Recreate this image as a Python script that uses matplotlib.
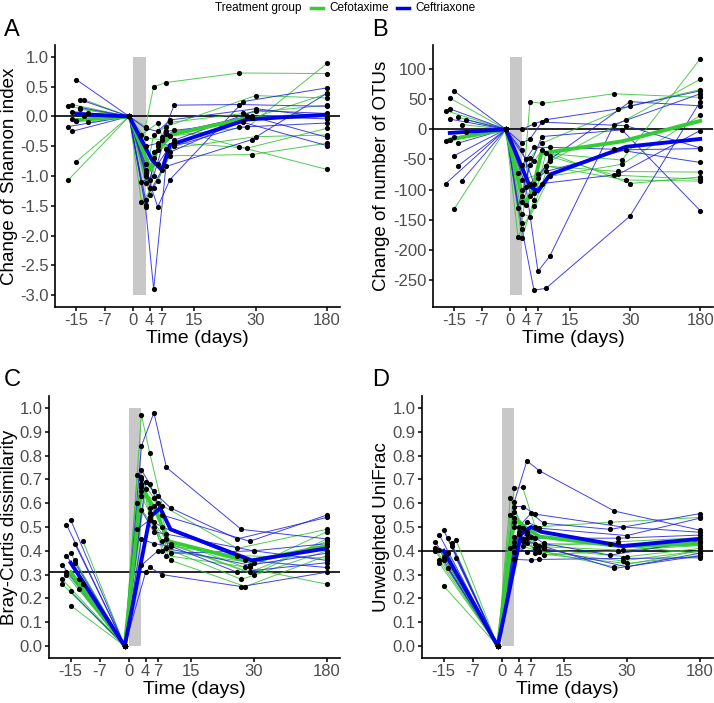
import numpy as np
import matplotlib.pyplot as plt
from matplotlib.lines import Line2D

plt.rcParams['font.family'] = ['Liberation Sans', 'DejaVu Sans']
plt.rcParams['axes.unicode_minus'] = False

W, H = 714, 703

# subjects: first 9 cefotaxime, last 9 ceftriaxone
group = ['Cefotaxime'] * 9 + ['Ceftriaxone'] * 9
base_day = [-15, -14, -16, -13, -15, -12, -14, -16, -11, -14, -15, -13, -16, -12, -15, -11, -14, -13]
ref_day = -1
day_1 = [3, 3, 2, 3, 3, 4, 3, 2, 3, 3, 3, 4, 3, 2, 3, 3, 4, 3]
day_2 = [5, 6, 6, 5, 7, 6, 5, 6, 5, 6, 5, 7, 6, 5, 6, 7, 5, 6]
day_3 = [8, 9, 10, 8, 9, 10, 9, 8, 10, 9, 8, 10, 9, 8, 10, 9, 8, 10]
day_30 = [26, 28, 29, 30, 27, 26, 29, 30, 28, 27, 29, 26, 30, 28, 26, 29, 27, 30]
day_180 = 180

# values per subject: baseline, reference, d1, d2, d3, d30, d180
shannon = [
    [0.20, 0, -0.17, 0.50, 0.57, 0.73, 0.72],
    [-0.76, 0, -1.12, -0.56, -0.33, -0.18, 0.89],
    [-1.07, 0, -1.43, -1.09, -0.44, -0.03, 0.38],
    [0.12, 0, -1.00, -0.31, -0.17, 0.35, 0.31],
    [-0.05, 0, -0.36, -0.39, -0.10, 0.05, 0.19],
    [0.28, 0, -1.32, -0.50, -0.22, -0.51, -0.89],
    [-0.08, 0, -1.49, -1.20, -0.66, -0.64, -0.45],
    [0.17, 0, -0.31, -0.11, -0.55, -0.34, -0.31],
    [-0.10, 0, -0.95, -0.60, -0.44, -0.53, -0.20],
    [0.62, 0, -0.90, -1.52, -1.06, 0.25, 0.48],
    [0.08, 0, -1.52, -2.90, -0.84, -0.39, 0.39],
    [0.15, 0, -1.06, -0.35, 0.19, 0.20, 0.17],
    [-0.17, 0, -0.20, -0.25, -0.06, 0.13, -0.01],
    [0.00, 0, -1.10, -1.00, -0.30, 0.00, -0.04],
    [-0.25, 0, -0.50, -0.45, -0.50, -0.18, -0.11],
    [0.05, 0, -1.40, -0.90, -0.60, 0.00, -0.35],
    [-0.08, 0, -1.20, -0.70, -0.25, -0.10, -0.49],
    [0.28, 0, -0.80, -0.80, -0.40, 0.10, 0.05],
]
otus = [
    [-17, 0, -120, 46, 43, 59, 53],
    [-133, 0, -181, -117, -40, -51, 117],
    [-20, 0, -178, -128, -53, 16, 83],
    [20, 0, -155, -48, -23, 39, 66],
    [52, 0, -84, -75, -61, -70, -71],
    [8, 0, -125, -105, -45, -76, -83],
    [-13, 0, -110, -90, -61, -84, -86],
    [31, 0, -72, -53, -35, -90, -79],
    [-4, 0, -140, -145, -78, -58, 23],
    [64, 0, 0, 9, 16, 34, 64],
    [17, 0, -23, -16, 12, 6, -31],
    [-61, 0, -95, -236, -210, 8, 59],
    [-90, 0, -165, -267, -264, -144, 46],
    [-85, 0, -130, -60, -12, -1, -135],
    [34, 0, -60, -30, -30, -33, -55],
    [16, 0, -100, -80, -70, -34, -32],
    [-44, 0, -50, -110, -90, -75, -2],
    [-23, 0, -35, -90, -50, 46, 39],
]
bray = [
    [0.31, 0, 0.97, 0.81, 0.59, 0.41, 0.49],
    [0.17, 0, 0.70, 0.62, 0.45, 0.33, 0.26],
    [0.28, 0, 0.72, 0.65, 0.43, 0.31, 0.44],
    [0.36, 0, 0.68, 0.58, 0.40, 0.35, 0.42],
    [0.30, 0, 0.65, 0.60, 0.41, 0.28, 0.40],
    [0.24, 0, 0.66, 0.52, 0.42, 0.38, 0.37],
    [0.39, 0, 0.71, 0.54, 0.38, 0.33, 0.48],
    [0.26, 0, 0.60, 0.50, 0.44, 0.30, 0.45],
    [0.44, 0, 0.63, 0.56, 0.36, 0.25, 0.38],
    [0.53, 0, 0.84, 0.98, 0.75, 0.49, 0.45],
    [0.51, 0, 0.74, 0.68, 0.55, 0.44, 0.55],
    [0.35, 0, 0.69, 0.63, 0.58, 0.45, 0.54],
    [0.34, 0, 0.57, 0.48, 0.47, 0.40, 0.43],
    [0.28, 0, 0.49, 0.53, 0.50, 0.36, 0.33],
    [0.38, 0, 0.45, 0.43, 0.42, 0.31, 0.35],
    [0.26, 0, 0.34, 0.40, 0.41, 0.34, 0.39],
    [0.23, 0, 0.31, 0.33, 0.30, 0.25, 0.31],
    [0.43, 0, 0.67, 0.59, 0.39, 0.40, 0.36],
]
unifrac = [
    [0.36, 0, 0.663, 0.666, 0.50, 0.52, 0.54],
    [0.253, 0, 0.565, 0.474, 0.42, 0.438, 0.455],
    [0.40, 0, 0.621, 0.453, 0.417, 0.403, 0.422],
    [0.389, 0, 0.537, 0.44, 0.41, 0.375, 0.41],
    [0.347, 0, 0.502, 0.46, 0.40, 0.333, 0.40],
    [0.431, 0, 0.48, 0.431, 0.43, 0.427, 0.389],
    [0.375, 0, 0.459, 0.42, 0.396, 0.358, 0.40],
    [0.41, 0, 0.55, 0.47, 0.39, 0.347, 0.38],
    [0.445, 0, 0.523, 0.44, 0.382, 0.40, 0.431],
    [0.487, 0, 0.607, 0.778, 0.736, 0.567, 0.487],
    [0.466, 0, 0.586, 0.586, 0.554, 0.50, 0.478],
    [0.455, 0, 0.50, 0.558, 0.516, 0.49, 0.556],
    [0.438, 0, 0.438, 0.523, 0.495, 0.464, 0.537],
    [0.422, 0, 0.41, 0.495, 0.453, 0.453, 0.466],
    [0.403, 0, 0.396, 0.48, 0.431, 0.382, 0.442],
    [0.368, 0, 0.364, 0.361, 0.364, 0.368, 0.371],
    [0.361, 0, 0.47, 0.45, 0.43, 0.326, 0.379],
    [0.326, 0, 0.42, 0.396, 0.41, 0.333, 0.39],
]

# group mean lines (day, value)
shannon_mean_cef_days = [-14, -1, 4.3, 5.5, 9.5, 28, 180]
shannon_mean_cef = [-0.06, 0, -0.90, -0.60, -0.30, -0.03, 0.02]
shannon_mean_cro_days = [-14, -1, 4.5, 7, 9, 28, 180]
shannon_mean_cro = [0.04, 0, -0.72, -0.90, -0.48, -0.05, 0.03]
otus_mean_cef_days = [-15, -1, 3.6, 5.7, 7.8, 28, 180]
otus_mean_cef = [-17, 0, -125, -100, -40, -20, 14]
otus_mean_cro_days = [-15, -1, 5, 7, 10, 29, 180]
otus_mean_cro = [-6, 0, -95, -103, -75, -29, -16]
bray_mean_cef_days = [-14, -1, 3, 6.5, 9.5, 29, 180]
bray_mean_cef = [0.31, 0, 0.67, 0.565, 0.44, 0.355, 0.42]
bray_mean_cro_days = [-14, -1, 5, 7.5, 10, 29.5, 180]
bray_mean_cro = [0.35, 0, 0.54, 0.58, 0.49, 0.36, 0.41]
unifrac_mean_cef_days = [-14, -1, 3, 5.5, 9, 28, 180]
unifrac_mean_cef = [0.39, 0, 0.54, 0.50, 0.46, 0.42, 0.43]
unifrac_mean_cro_days = [-14, -1, 4.6, 7, 9.4, 29, 180]
unifrac_mean_cro = [0.40, 0, 0.47, 0.50, 0.48, 0.42, 0.45]

tick_days = [-14, -7, 0, 4, 7, 15, 30, 180]
tick_labels = ['-15', '-7', '0', '4', '7', '15', '30', '180']

thin_col = {'Cefotaxime': '#33C233', 'Ceftriaxone': '#2020E0'}
thick_col = {'Cefotaxime': '#33CC33', 'Ceftriaxone': '#0000EE'}


def xpos(day):
    # days after 30 are squeezed
    d = np.asarray(day, dtype=float)
    return np.where(d > 30, 30 + (d - 30) * 17.5 / 150, d)


def box(l, t, r, b):
    return [l / W, 1 - b / H, (r - l) / W, (b - t) / H]


fig = plt.figure(figsize=(W / 100, H / 100), dpi=100)

panels = [
    dict(letter='A', px=(55, 45, 340, 307), lpos=(4, 30), ylx=10, vals=shannon,
         mcef=(shannon_mean_cef_days, shannon_mean_cef), mcro=(shannon_mean_cro_days, shannon_mean_cro),
         band=(-3, 1), hline=0, ylim=(-3.2, 1.2), yticks=np.arange(-3, 1.01, 0.5), fmt='{:.1f}',
         ylabel='Change of Shannon index'),
    dict(letter='B', px=(433, 45, 713, 307), lpos=(372, 30), ylx=381, vals=otus,
         mcef=(otus_mean_cef_days, otus_mean_cef), mcro=(otus_mean_cro_days, otus_mean_cro),
         band=(-275, 120), hline=0, ylim=(-295, 140), yticks=np.arange(-250, 101, 50), fmt='{:.0f}',
         ylabel='Change of number of OTUs'),
    dict(letter='C', px=(49, 396, 340, 658), lpos=(4, 380), ylx=10, vals=bray,
         mcef=(bray_mean_cef_days, bray_mean_cef), mcro=(bray_mean_cro_days, bray_mean_cro),
         band=(0, 1), hline=0.31, ylim=(-0.05, 1.05), yticks=np.arange(0, 1.01, 0.1), fmt='{:.1f}',
         ylabel='Bray-Curtis dissimilarity'),
    dict(letter='D', px=(422, 396, 713, 658), lpos=(372, 380), ylx=381, vals=unifrac,
         mcef=(unifrac_mean_cef_days, unifrac_mean_cef), mcro=(unifrac_mean_cro_days, unifrac_mean_cro),
         band=(0, 1), hline=0.40, ylim=(-0.05, 1.05), yticks=np.arange(0, 1.01, 0.1), fmt='{:.1f}',
         ylabel='Unweighted UniFrac'),
]

for p in panels:
    ax = fig.add_axes(box(*p['px']))
    ax.fill_between([0, 3], p['band'][0], p['band'][1], color='#C8C8C8', lw=0, zorder=1)
    ax.axhline(p['hline'], color='black', lw=1.2, zorder=2)
    for i, v in enumerate(p['vals']):
        days = [base_day[i], ref_day, day_1[i], day_2[i], day_3[i], day_30[i], day_180]
        ax.plot(xpos(days), v, color=thin_col[group[i]], lw=0.7, alpha=0.85, zorder=3)
        ax.scatter(xpos(days), v, s=14, color='black', lw=0, zorder=6)
    ax.plot(xpos(p['mcef'][0]), p['mcef'][1], color=thick_col['Cefotaxime'], lw=2.8, zorder=4)
    ax.plot(xpos(p['mcro'][0]), p['mcro'][1], color=thick_col['Ceftriaxone'], lw=2.8, zorder=5)

    ax.set_xlim(-19.2, 50.7)
    ax.set_ylim(*p['ylim'])
    ax.set_xticks(xpos(tick_days))
    ax.set_xticklabels(tick_labels)
    ax.set_yticks(p['yticks'])
    ax.set_yticklabels([p['fmt'].format(t) for t in p['yticks']])
    for s in ['top', 'right']:
        ax.spines[s].set_visible(False)
    for s in ['left', 'bottom']:
        ax.spines[s].set_linewidth(1.2)
    ax.tick_params(length=3, width=1.1, color='black', labelcolor='#4D4D4D', labelsize=12, pad=1.5)
    ax.set_xlabel('Time (days)', fontsize=14, labelpad=1)

    l, t, r, b = p['px']
    fig.text(p['ylx'] / W, 1 - (t + b) / 2 / H, p['ylabel'], rotation=90,
             fontsize=13.5, ha='center', va='center')
    fig.text(p['lpos'][0] / W, 1 - p['lpos'][1] / H, p['letter'], fontsize=17, va='center', ha='left')

# legend on top
ly = 1 - 8 / H
fig.text(215 / W, ly, 'Treatment group', fontsize=8.5, va='center', ha='left')
fig.add_artist(Line2D([311 / W, 323 / W], [ly, ly], color=thick_col['Cefotaxime'], lw=2.5))
fig.text(329 / W, ly, 'Cefotaxime', fontsize=8.5, va='center', ha='left')
fig.add_artist(Line2D([397 / W, 409 / W], [ly, ly], color=thick_col['Ceftriaxone'], lw=2.5))
fig.text(415 / W, ly, 'Ceftriaxone', fontsize=8.5, va='center', ha='left')

fig.savefig('out.png', dpi=100)
